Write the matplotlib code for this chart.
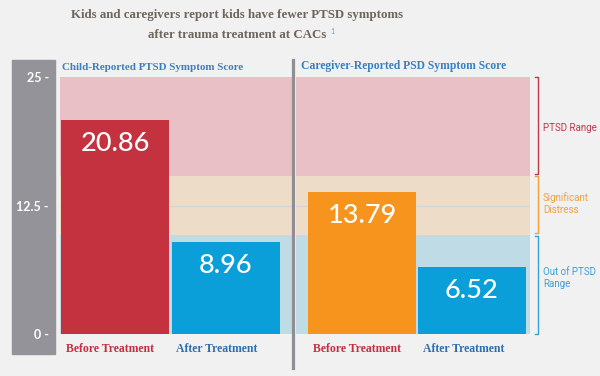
import matplotlib.pyplot as plt
from matplotlib.patches import Rectangle
from matplotlib.lines import Line2D
import matplotlib.transforms as mtransforms

# data
groups = ['Child-Reported PTSD Symptom Score', 'Caregiver-Reported PSD Symptom Score']
conditions = ['Before Treatment', 'After Treatment']
child_scores = [20.86, 8.96]
caregiver_scores = [13.79, 6.52]
y_ticks = [0, 12.5, 25]
y_tick_labels = ['0 -', '12.5 -', '25 -']
# score ranges (low, high)
range_names = ['PTSD Range', 'Significant\nDistress', 'Out of PTSD\nRange']
band_limits = [(15.4, 25), (9.6, 15.4), (0, 9.6)]
bracket_limits = [(15.55, 25), (9.8, 15.35), (0, 9.5)]
label_y = [20.0, 12.7, 5.4]

BG = '#f1f1f1'
band_colors = ['#e8c0c5', '#ecdcc8', '#bfdbe6']
range_colors = ['#c0394a', '#f0a040', '#3ba0d8']
bar_colors = [['#c4323f', '#0a9fd9'], ['#f7941d', '#0a9fd9']]
label_colors = ['#c23040', '#2e6db0']
SERIF = 'Liberation Serif'
SANS = 'Lato'

W, H = 600, 376
fig = plt.figure(figsize=(6, 3.76), dpi=100, facecolor=BG)


def px(x0, y_top, w, h):
    # pixel box (top-left origin) -> figure fraction rect
    return [x0 / W, (H - y_top - h) / H, w / W, h / H]


# grey y-axis strip
fig.add_artist(Rectangle((12 / W, (H - 354) / H), 43 / W, 294 / H,
                         transform=fig.transFigure, color='#939399', zorder=0))
# divider
fig.add_artist(Line2D([293 / W, 293 / W], [(H - 368) / H, (H - 60) / H],
                      transform=fig.transFigure, color='#8e8e93', lw=2.3))

ax1 = fig.add_axes(px(60, 77, 232, 257))
ax2 = fig.add_axes(px(296, 77, 234, 257))
panels = [(ax1, child_scores, (-0.5, 1.6)), (ax2, caregiver_scores, (-0.6, 1.527))]
title_sizes = [7.9, 8.4]

for i, (ax, scores, xl) in enumerate(panels):
    ax.set_facecolor('none')
    for (lo, hi), c in zip(band_limits, band_colors):
        ax.axhspan(lo, hi, color=c, lw=0, zorder=0)
    ax.axhline(12.5, color='#d2d6da', lw=0.8, zorder=1)
    bars = ax.bar([0, 1], scores, width=0.98, color=bar_colors[i], zorder=2)
    for b, v in zip(bars, scores):
        ax.annotate(f'{v:.2f}', (b.get_x() + b.get_width() / 2, v),
                    xytext=(0, -8), textcoords='offset points',
                    ha='center', va='top', color='white', fontsize=19.5,
                    family=SANS, fontweight='medium', zorder=3)
    ax.set_xlim(*xl)
    ax.set_ylim(0, 25)
    for s in ax.spines.values():
        s.set_visible(False)
    ax.set_xticks([])
    ax.set_yticks([])
    trx = mtransforms.blended_transform_factory(ax.transAxes, ax.transData)
    ax.text(0.008 if i == 0 else 0.022, 25.5, groups[i], color='#3a7fc0',
            fontsize=title_sizes[i], family=SERIF, fontweight='bold',
            va='bottom', transform=trx)
    for j, lab in enumerate(conditions):
        ax.text(j - 0.45, -0.9, lab, color=label_colors[j],
                fontsize=8.5, family=SERIF, fontweight='bold', va='top')

ax1.set_yticks(y_ticks)
ax1.set_yticklabels(y_tick_labels)
ax1.tick_params(axis='y', length=0, pad=8, labelcolor='white', labelsize=9)
for t in ax1.get_yticklabels():
    t.set_family(SANS)
    t.set_fontweight('bold')

# range brackets on the right
tr = mtransforms.blended_transform_factory(ax2.transAxes, ax2.transData)
for (lo, hi), c, name, ly in zip(bracket_limits, range_colors, range_names, label_y):
    ax2.plot([1.021, 1.033, 1.033, 1.021], [hi, hi, lo, lo], color=c, lw=1,
             transform=tr, clip_on=False)
    ax2.text(1.055, ly, name, color=c, fontsize=7, family='Roboto',
             fontweight='normal', va='center', ha='left', transform=tr,
             linespacing=1.25)

# title
title_color = '#6e655c'
fig.text(237 / W, 1 - 15 / H, 'Kids and caregivers report kids have fewer PTSD symptoms',
         ha='center', va='center', color=title_color, fontsize=9.3, family=SERIF,
         fontweight='bold')
fig.text(237 / W, 1 - 35 / H, 'after trauma treatment at CACs',
         ha='center', va='center', color=title_color, fontsize=9.3, family=SERIF,
         fontweight='bold')
fig.text(330 / W, 1 - 31 / H, '1', ha='left', va='center', color='#6aaee0',
         fontsize=5.5, family=SANS)

fig.savefig('out.png', dpi=100, facecolor=BG)
